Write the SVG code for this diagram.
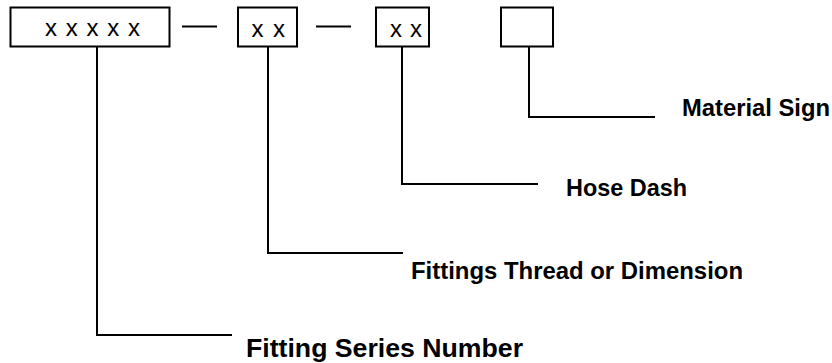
<svg xmlns="http://www.w3.org/2000/svg" width="832" height="363" viewBox="0 0 832 363">
<style>
.box{fill:#fff;stroke:#000;stroke-width:2}
.code{font-family:"Liberation Sans",Arial,sans-serif;font-size:24px;fill:#000}
.lbl{font-family:"Liberation Sans",Arial,sans-serif;font-size:24px;font-weight:bold;fill:#000}
.ln{fill:none;stroke:#000;stroke-width:2}
</style>
<rect width="832" height="363" fill="#fff"/>
<g id="connectors">
<line class="ln" x1="182" y1="26.5" x2="217" y2="26.5"/>
<line class="ln" x1="316" y1="26.5" x2="351" y2="26.5"/>
<polyline class="ln" points="97,47 97,335 232,335"/>
<polyline class="ln" points="268,47 268,253 403,253"/>
<polyline class="ln" points="402,47 402,184 538,184"/>
<polyline class="ln" points="529,47 529,117 655,117"/>
</g>
<g id="series-box">
<rect class="box" x="10.5" y="7.5" width="159" height="39"/>
<text class="code" x="45" y="36" textLength="95" lengthAdjust="spacing">x x x x x</text>
</g>
<g id="thread-box">
<rect class="box" x="238" y="7.5" width="59" height="39"/>
<text class="code" x="251.5" y="37" textLength="33.5" lengthAdjust="spacing">x x</text>
</g>
<g id="dash-box">
<rect class="box" x="376" y="7.5" width="53" height="39"/>
<text class="code" x="390" y="37" textLength="32" lengthAdjust="spacing">x x</text>
</g>
<g id="material-box">
<rect class="box" x="501" y="7.5" width="52" height="39"/>
</g>
<g id="label-material">
<text class="lbl" x="682" y="116" textLength="148" lengthAdjust="spacingAndGlyphs">Material Sign</text>
</g>
<g id="label-hose">
<text class="lbl" x="566" y="196" textLength="121" lengthAdjust="spacingAndGlyphs">Hose Dash</text>
</g>
<g id="label-thread">
<text class="lbl" x="411" y="279" textLength="332" lengthAdjust="spacingAndGlyphs">Fittings Thread or Dimension</text>
</g>
<g id="label-series">
<text class="lbl" x="246" y="357" style="font-size:25px" textLength="277" lengthAdjust="spacingAndGlyphs">Fitting Series Number</text>
</g>
</svg>
